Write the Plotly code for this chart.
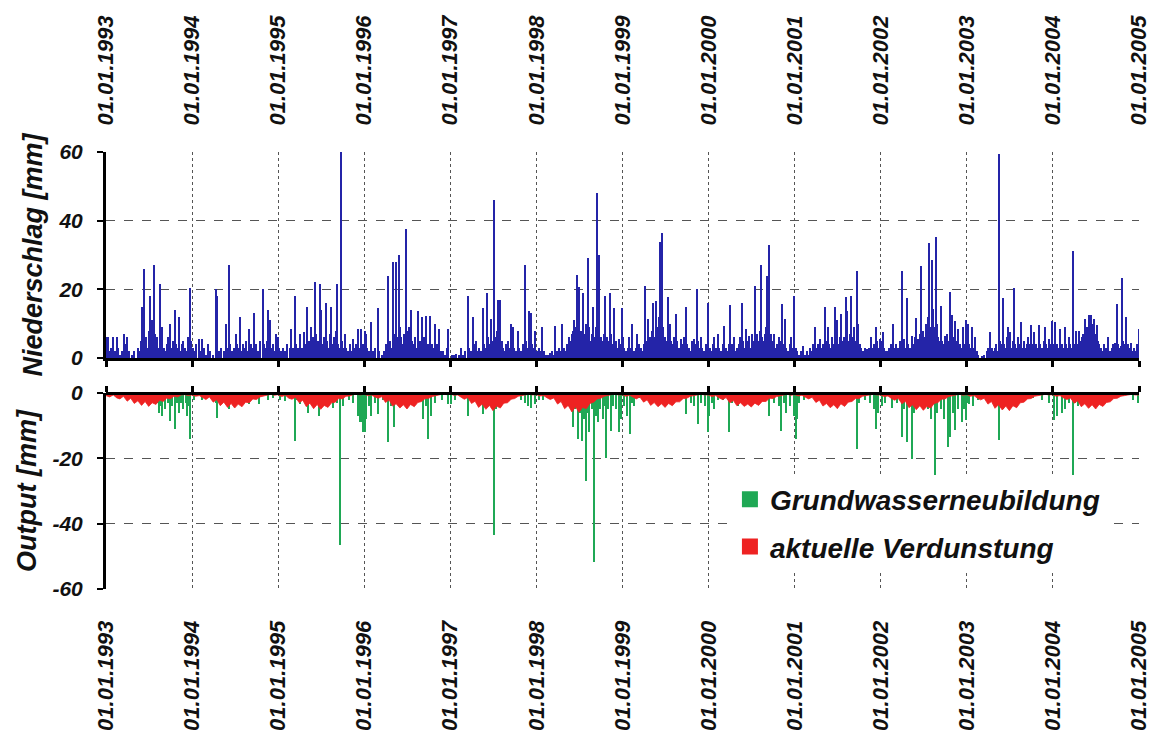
import pandas as pd
import plotly.graph_objects as go

YEARS = list(range(1993, 2006))
TICK_TEXT = [f"01.01.{y}" for y in YEARS]
Y_TOP_TICKS = [0, 20, 40, 60]
Y_BOT_TICKS = [-60, -40, -20, 0]

# Niederschlag (day of year, mm)
P1993 = [(5,6),(9,6),(14,2),(22,3),(31,6),(38,2),(46,6),(52,3),(60,1),(68,2),(76,7),(82,4),(90,6),(98,2),(110,1),(120,2),(135,3),(142,2),(150,5),(154,15),(158,4),(162,26),(168,6),(175,3),(181,8),(187,18),(190,9),(194,11),(198,5),(202,27),(206,7),(212,4),(218,6),(222,3),(228,21.5),(233,5),(239,9),(245,3),(252,2),(258,4),(265,6),(272,10),(278,3),(285,5),(291,14),(296,4),(302,3),(309,12),(315,2),(322,4),(328,5),(335,3),(342,2),(348,6),(352,4),(358,20.5),(362,5)]
P1994 = [(3,3),(10,2),(18,4),(29,5.5),(35,2),(43,5.5),(50,3),(58,1),(69,4),(78,2),(88,1),(100,20),(104,3),(107,18),(115,2),(125,3),(134,2),(143,10),(148,3),(155,27),(160,4),(168,2),(178,3),(186,7),(192,4),(198,3),(203,12),(210,2),(216,4),(222,3),(229,5),(236,2),(243,8.5),(250,4),(258,3),(265,13),(270,4),(280,2),(290,5),(301,20),(306,4),(312,3),(318,5),(322,14),(329,11),(336,3),(342,4),(350,2),(358,7),(363,6)]
P1995 = [(5,3),(12,2),(21,3),(30,2),(40,4),(50,3),(57,8.5),(64,3),(71,18),(78,4),(85,3),(92,7),(100,3),(109,7.5),(116,4),(124,15),(130,5),(136,4),(141,9),(147,6),(152,3),(158,22),(163,7),(170,5),(177,21.5),(181,6),(184,14),(190,4),(196,6),(202,16),(208,5),(214,3),(220,7),(226,15),(232,4),(238,6),(244,8),(250,21.5),(256,4),(261,3),(266,60),(270,5),(276,3),(283,7),(290,3),(298,2),(306,4),(312,2),(318,5.5),(325,3),(332,4),(340,8.5),(346,3),(354,8.5),(360,4)]
P1996 = [(3,8),(8,7),(14,3),(20,2),(30,10.4),(38,2),(45,3),(58,14.5),(65,2),(75,1),(86,2),(92,4),(102,24),(108,5),(115,3),(124,28),(128,7),(134,28),(140,6),(147,30),(151,9),(156,6),(162,4),(168,7),(172,5),(179,37.6),(184,8),(189,9),(194,6),(198,14),(204,5),(210,4),(216,6),(222,3),(230,13.6),(236,5),(244,12),(250,4),(256,6),(264,12.3),(270,4),(275,3),(281,12.3),(288,4),(295,3),(302,10),(308,4),(314,3),(320,8.5),(328,2),(336,2),(345,1),(352,3),(358,8.5)]
P1997 = [(6,1),(15,1),(24,1.2),(35,1),(45,3),(55,1),(62,2),(74,18),(80,3),(88,2),(98,12),(102,4),(107,5),(115,2),(122,3),(130,2),(138,14.5),(144,4),(150,3),(155,19),(160,6),(166,4),(173,11.4),(180,5),(187,46),(192,6),(197,8),(202,17),(207,9),(212,17),(218,5),(225,3),(232,2),(238,4),(244,5),(250,3),(258,10),(262,4),(266,9),(272,3),(280,2),(287,8),(292,3),(300,2),(308,4),(315,27),(320,5),(326,3),(334,13.6),(341,13),(346,4),(352,3),(358,8)]
P1998 = [(4,2),(12,3),(18,2),(26,9),(34,2),(42,1),(50,1),(59,1.5),(68,2),(75,1),(81,9.4),(88,2),(95,3),(102,2),(110,10),(116,3),(124,2),(130,4),(139,6),(145,5),(150,7),(155,8),(161,11),(166,6),(170,9),(173,24.3),(178,7),(183,20.6),(188,8),(193,6),(198,19),(203,7),(209,10),(215,6),(220,29),(225,9),(230,5),(236,7),(242,15),(247,6),(252,9),(257,48),(260,10),(264,30),(268,8),(274,6),(280,5),(287,7),(293,18),(298,6),(304,5),(311,19),(316,7),(322,4),(330,14.5),(336,5),(342,3),(349,5.5),(356,4),(362,14.5)]
P1999 = [(3,6),(7,3),(14,2),(22,3),(28,6),(35,3),(43,10),(50,2),(57,3),(64,7),(72,4),(80,3),(87,2),(92,4),(97,21),(102,5),(107,11.4),(113,4),(118,6),(124,8),(128,16),(134,6),(142,16.7),(148,5),(153,9),(157,12),(160,33.7),(163,10),(166,21),(170,36.3),(174,9),(180,6),(186,5),(192,17.7),(197,6),(203,10),(208,5),(214,4),(220,6),(227,12.8),(233,5),(240,3),(249,5.5),(256,4),(263,6),(270,15),(276,4),(283,3),(290,2),(296,5),(302,5.5),(308,4),(317,20),(322,5),(328,3),(334,6),(340,3),(348,2),(355,4),(362,16)]
P2000 = [(5,3),(12,2),(18,4),(25,6),(32,3),(40,7),(47,3),(54,2),(60,4),(68,9.4),(75,3),(82,2),(88,4),(93,15.5),(99,4),(104,3),(110,6),(116,2),(122,3),(130,4),(136,6),(141,16),(146,5),(152,3),(160,8.5),(165,4),(170,5),(174,6.5),(180,3),(186,7),(192,5),(198,21),(203,6),(207,7),(212,5),(218,8),(224,27),(228,6),(234,5),(240,7),(244,9),(248,24),(252,6),(259,33),(264,7),(270,4),(275,5),(280,7),(286,3),(292,4),(298,6),(304,5),(311,15.7),(316,4),(323,11.4),(330,3),(338,2),(345,4),(351,6),(356,3),(362,18)]
P2001 = [(4,3),(10,2),(18,1),(26,2),(36,3.5),(44,1),(52,2),(58,1),(65,3),(72,2),(80,4),(86,9),(92,3),(100,4),(108,5.5),(114,3),(122,4),(129,15),(134,5),(141,9),(146,4),(152,3),(158,6),(164,4),(170,15),(175,5),(180,11),(186,4),(192,6),(198,12.8),(203,5),(210,6),(216,17.7),(219,8),(223,13.8),(228,5),(234,7),(241,18),(245,6),(251,9),(257,5),(263,25.4),(266,6),(270,10),(276,4),(283,3),(290,2),(298,3),(303,2),(309,2.5),(315,3),(323,6),(330,3),(336,4),(345,9),(350,5),(356,3),(362,5.5)]
P2002 = [(3,5),(8,7.5),(15,3),(22,2),(28,2),(35,3),(42,4),(51,10),(58,3),(65,4),(72,3),(80,5),(89,25.4),(94,4),(99,5.5),(106,3),(113,17.4),(118,4),(125,3),(132,6.5),(138,4),(144,6),(150,11.7),(155,5),(160,5.5),(165,7),(171,26.7),(176,7),(181,8),(186,6),(192,10),(197,6),(201,12),(207,33.5),(211,9),(216,28.6),(220,8),(224,14.4),(228,9),(233,35.2),(237,8),(240,10),(245,6),(250,5),(255,15.2),(260,5),(267,4),(273,6.5),(280,7),(287,5),(294,19.3),(298,8),(301,12.5),(307,6),(315,10.7),(320,4),(325,5),(330,8.5),(337,4),(342,3),(348,9),(355,4),(362,11)]
P2003 = [(5,10),(10,4),(15,3),(21,9),(28,3),(35,6),(42,2),(50,1),(63,0.7),(75,1),(85,2),(92,3),(100,7.5),(106,3),(112,2),(118,3),(125,4),(131,2),(137,59.5),(142,5),(148,4),(153,17.4),(158,4),(164,3),(170,6),(174,9),(179,4),(184,7.5),(190,3),(196,5),(202,20.3),(207,4),(213,3),(218,6),(224,4),(230,10.5),(236,3),(244,5),(250,3),(256,4),(262,6),(266,4),(272,9.5),(278,4),(286,7.5),(292,4),(298,3),(306,9.5),(312,4),(318,3),(326,5),(332,9),(338,4),(345,3),(351,5.5),(356,4),(362,10.7)]
P2004 = [(5,4),(11,10.5),(18,4),(25,3),(32,8.5),(38,4),(44,3),(51,9),(57,4),(62,3),(67,6),(74,4),(80,3),(87,31.3),(92,4),(98,8),(104,4),(110,8),(116,5),(124,6),(130,7),(135,11.5),(140,6),(146,9),(152,12.6),(157,7),(163,12.5),(168,8),(172,10),(177,11.5),(182,7),(187,9.5),(192,5),(198,4),(205,3),(212,2),(219,4),(226,3),(236,6),(243,2),(250,3),(257,4),(264,4.5),(271,15.7),(276,4),(282,3),(289,3.5),(295,23.2),(300,5),(306,4),(313,12),(318,4),(324,3),(331,4.5),(338,2),(345,3),(352,2),(358,4),(364,8.5)]

# Grundwasserneubildung (day of year, mm)
G1993 = [(15,0.5),(40,0.8),(60,0.5),(200,2),(215,3),(224,6),(232,4),(239,7),(252,5),(262,3),(272,8.5),(280,4),(291,11),(300,3),(309,6),(318,3),(328,5),(338,3),(345,7),(352,4),(358,14.2)]
G1994 = [(7,2),(20,1),(43,2),(70,1),(100,3),(107,7.5),(115,2),(157,5),(200,3),(222,2.5),(243,3.5),(286,3.5),(322,2),(345,1.5)]
G1995 = [(7,2),(28,2.5),(50,1),(71,14.7),(80,2),(92,3.5),(110,2),(127,6),(150,2),(174,7),(200,2),(233,4.5),(250,3),(265,46.5),(276,4),(300,2),(320,3),(340,7),(348,9),(354,9),(360,12)]
G1996 = [(3,12),(10,8),(20,4),(30,7),(45,3),(58,6.5),(80,2),(102,15),(115,4),(127,10.5),(150,2),(251,8),(262,4),(271,14),(285,7),(300,3),(330,2),(358,3.5)]
G1997 = [(5,3.5),(20,2),(40,1),(74,7),(100,2),(138,6.5),(187,43.4),(195,5),(250,2),(300,2),(315,3),(330,4),(344,4.5),(358,3.5)]
G1998 = [(10,2),(28,2),(60,1),(140,4),(154,10.5),(165,5),(175,14),(185,6),(194,14.7),(203,8),(211,27),(218,6),(225,12),(235,5),(246,51.6),(252,7),(260,9),(270,5),(281,8),(288,4),(295,19.8),(305,5),(316,11.6),(326,4),(337,5),(350,12),(358,8)]
G1999 = [(5,4),(21,7),(33,12.6),(42,3),(50,4),(70,1.5),(100,1),(250,2),(270,6.5),(290,3),(305,4),(320,9.5),(335,3),(350,4),(362,12)]
G2000 = [(4,7),(15,3),(25,5),(40,2),(60,2),(89,12),(100,3),(124,4),(200,1),(259,7),(280,3),(300,4),(308,11.6),(320,3),(330,6),(345,4),(362,7)]
G2001 = [(4,14),(11,8),(20,3),(40,2),(70,1),(200,1.5),(266,17),(275,3),(300,2),(320,3),(335,5),(345,11),(355,6)]
G2002 = [(5,4),(20,3),(47,4.7),(70,3),(89,13.5),(100,5),(110,15),(120,4),(132,20.2),(140,6),(170,3),(200,5),(215,8),(231,26.4),(240,6),(255,5),(270,8),(287,16.6),(294,13.5),(305,6),(315,11.4),(330,5),(344,9),(355,5),(362,8.3)]
G2003 = [(0,3),(10,3.5),(28,4),(50,2),(80,2),(137,14.5),(153,5),(200,2),(280,1.5),(320,2),(350,3)]
G2004 = [(4,8.3),(18,7),(39,6),(53,5),(70,3),(84,27),(95,3),(109,4),(130,2),(300,1),(340,2),(360,3)]

# aktuelle Verdunstung, mm/d on the 1st and 16th of each month
E1993 = [0.8,1.2,0.6,1.5,1.8,1.0,2.5,1.6,3.2,2.4,3.8,2.6,4.1,3.0,3.5,2.2,2.6,1.5,1.8,1.0,1.2,0.6,0.5,0.8]
E1994 = [0.6,1.0,0.8,1.4,2.0,1.2,2.8,2.0,3.9,2.8,4.4,3.2,4.6,3.4,4.2,2.8,3.0,1.8,2.0,1.2,1.0,0.6,0.4,0.7]
E1995 = [0.5,1.1,0.7,1.6,1.9,1.3,3.0,2.2,4.2,3.1,4.8,3.5,5.0,3.8,4.4,3.0,2.8,1.6,1.8,1.0,0.9,0.5,0.4,0.6]
E1996 = [0.4,0.8,0.6,1.2,1.6,1.1,2.9,2.1,4.0,3.3,4.6,3.6,4.9,3.5,4.2,2.9,2.6,1.7,1.6,1.1,0.8,0.5,0.3,0.5]
E1997 = [0.3,0.7,0.6,1.3,1.9,1.4,3.2,2.5,4.4,3.4,5.0,3.8,5.4,4.0,4.6,3.1,3.0,1.9,1.7,1.0,0.8,0.5,0.4,0.6]
E1998 = [0.5,0.9,0.8,1.5,2.0,1.5,3.4,2.6,4.8,3.8,5.8,4.2,5.9,4.4,4.8,3.2,2.8,1.8,1.6,1.0,0.7,0.5,0.4,0.6]
E1999 = [0.5,1.0,0.7,1.4,1.8,1.2,2.8,2.1,3.8,2.9,4.2,3.3,4.4,3.2,3.9,2.7,2.7,1.7,1.6,1.0,0.8,0.5,0.4,0.6]
E2000 = [0.6,1.1,0.8,1.5,2.0,1.4,3.0,2.3,3.9,3.0,4.1,3.4,4.3,3.1,3.8,2.6,2.6,1.6,1.7,1.1,0.9,0.6,0.4,0.7]
E2001 = [0.5,0.9,0.7,1.3,1.8,1.3,2.9,2.2,4.0,3.2,4.5,3.6,4.8,3.3,4.1,2.8,2.6,1.7,1.7,1.0,0.8,0.5,0.4,0.6]
E2002 = [0.6,1.1,0.9,1.7,2.2,1.6,3.3,2.5,4.5,3.6,5.1,3.9,5.3,4.1,4.6,3.2,2.9,1.9,1.8,1.1,0.9,0.6,0.4,0.7]
E2003 = [0.5,1.0,0.8,1.6,2.1,1.6,3.4,2.6,4.7,3.6,5.2,4.0,5.4,3.9,4.5,3.0,2.8,1.8,1.7,1.0,0.8,0.5,0.4,0.6]
E2004 = [0.5,1.0,0.8,1.5,2.0,1.5,3.1,2.4,4.2,3.3,4.7,3.6,4.9,3.5,4.1,2.9,2.7,1.7,1.6,1.0,0.8,0.5,0.4,0.6]

P_BY_YEAR = dict(zip(range(1993, 2005), [P1993, P1994, P1995, P1996, P1997, P1998, P1999, P2000, P2001, P2002, P2003, P2004]))
G_BY_YEAR = dict(zip(range(1993, 2005), [G1993, G1994, G1995, G1996, G1997, G1998, G1999, G2000, G2001, G2002, G2003, G2004]))
E_BY_YEAR = dict(zip(range(1993, 2005), [E1993, E1994, E1995, E1996, E1997, E1998, E1999, E2000, E2001, E2002, E2003, E2004]))


def expand(by_year):
    xs, ys = [], []
    for yr, pairs in by_year.items():
        for d, v in pairs:
            xs.append(pd.Timestamp(yr, 1, 1) + pd.Timedelta(days=d))
            ys.append(v)
    return xs, ys


px_, py_ = expand(P_BY_YEAR)
gx_, gy_ = expand(G_BY_YEAR)
ex_, ey_ = [], []
for yr, vals in E_BY_YEAR.items():
    for i, v in enumerate(vals):
        ex_.append(pd.Timestamp(yr, i // 2 + 1, 1 if i % 2 == 0 else 16))
        ey_.append(-v)
ex_.append(pd.Timestamp(2005, 1, 1)); ey_.append(ey_[-1])

FONT = "Liberation Sans, Arial, sans-serif"
BLUE = "#2424a8"
GREEN = "#1fa855"
RED = "#ee2222"
GRID = "#555555"
BARW = 4.5 * 86400000

tickvals = [pd.Timestamp(y, 1, 1) for y in YEARS]
xr = [pd.Timestamp(1993, 1, 1), pd.Timestamp(2005, 1, 1)]

fig = go.Figure()
fig.add_trace(go.Bar(x=px_, y=py_, width=BARW, marker=dict(color=BLUE, line=dict(width=0)),
                     xaxis="x", yaxis="y", showlegend=False, hoverinfo="skip"))
fig.add_trace(go.Scatter(x=ex_, y=ey_, mode="lines", fill="tozeroy", line=dict(color=RED, width=0.8),
                         fillcolor=RED, xaxis="x2", yaxis="y2", showlegend=False, hoverinfo="skip"))
fig.add_trace(go.Bar(x=gx_, y=[-v for v in gy_], width=BARW, marker=dict(color=GREEN, line=dict(width=0)),
                     xaxis="x2", yaxis="y2", showlegend=False, hoverinfo="skip"))
# legend entries
fig.add_trace(go.Scatter(x=[None], y=[None], mode="markers", name="Grundwasserneubildung",
                         marker=dict(symbol="square", size=16, color=GREEN),
                         xaxis="x2", yaxis="y2", legendgroup="g"))
fig.add_trace(go.Scatter(x=[None], y=[None], mode="markers", name="aktuelle Verdunstung",
                         marker=dict(symbol="square", size=16, color=RED),
                         xaxis="x2", yaxis="y2", legendgroup="e"))
# empty carriers so the overlay axes get drawn
fig.add_trace(go.Scatter(x=[None], y=[None], mode="markers", xaxis="x3", yaxis="y",
                         showlegend=False, hoverinfo="skip"))
fig.add_trace(go.Scatter(x=[None], y=[None], mode="markers", xaxis="x4", yaxis="y2",
                         showlegend=False, hoverinfo="skip"))

tickfont_y = dict(family=FONT, size=21, color="#111", weight="bold", style="italic")
tickfont_x = dict(family=FONT, size=22, color="#111", weight="bold", style="italic")
titlefont = dict(family=FONT, size=27, color="#111", weight="bold", style="italic")

TOP_D = [0.5286, 1.0]
BOT_D = [0.0, 0.4485]

fig.update_layout(
    width=1154, height=733,
    margin=dict(l=106, r=15, t=152, b=144, autoexpand=False),
    paper_bgcolor="white", plot_bgcolor="white",
    barmode="overlay", bargap=0,
    xaxis=dict(domain=[0, 1], anchor="y", type="date", range=xr, tickmode="array", tickvals=tickvals,
               showticklabels=False, ticks="outside", ticklen=6, tickwidth=3, tickcolor="black",
               showline=True, linewidth=3, linecolor="black", automargin=False,
               showgrid=True, gridcolor=GRID, griddash="dot", gridwidth=1, zeroline=False),
    yaxis=dict(domain=TOP_D, anchor="x", range=[0, 60], tickmode="array", tickvals=Y_TOP_TICKS,
               ticktext=[str(v) for v in Y_TOP_TICKS],
               tickfont=tickfont_y, ticks="outside", ticklen=6, tickwidth=2, tickcolor="black",
               ticklabelstandoff=10, automargin=False,
               showline=True, linewidth=3, linecolor="black",
               showgrid=True, gridcolor=GRID, griddash="dash", gridwidth=1, zeroline=False,
               title=dict(text="Niederschlag [mm]", font=titlefont, standoff=8)),
    xaxis2=dict(domain=[0, 1], anchor="y2", type="date", range=xr, tickmode="array", tickvals=tickvals,
                ticktext=TICK_TEXT, tickangle=-90, tickfont=tickfont_x, automargin=False,
                ticks="outside", ticklen=22, tickcolor="rgba(0,0,0,0)",
                showline=False, showgrid=True, gridcolor=GRID, griddash="dot", gridwidth=1, zeroline=False),
    yaxis2=dict(domain=BOT_D, anchor="x2", range=[-60, 0], tickmode="array", tickvals=Y_BOT_TICKS,
                ticktext=[str(v) for v in Y_BOT_TICKS],
                tickfont=tickfont_y, ticks="outside", ticklen=6, tickwidth=2, tickcolor="black",
                ticklabelstandoff=10, automargin=False,
                showline=True, linewidth=3, linecolor="black",
                showgrid=True, gridcolor=GRID, griddash="dash", gridwidth=1, zeroline=False,
                title=dict(text="Output [mm]", font=titlefont, standoff=8)),
    xaxis3=dict(overlaying="x", anchor="free", position=1.0, side="top", type="date", range=xr,
                tickmode="array", tickvals=tickvals, ticktext=TICK_TEXT, tickangle=-90, tickfont=tickfont_x,
                ticks="outside", ticklen=22, tickcolor="rgba(0,0,0,0)", showline=False, showgrid=False,
                zeroline=False, automargin=False),
    xaxis4=dict(overlaying="x2", anchor="free", position=BOT_D[1], side="top", type="date", range=xr,
                tickmode="array", tickvals=tickvals, showticklabels=False, automargin=False,
                ticks="outside", ticklen=6, tickwidth=3, tickcolor="black",
                showline=True, linewidth=3, linecolor="black", showgrid=False, zeroline=False),
    legend=dict(x=0.604, y=0.262, xanchor="left", yanchor="top", bgcolor="white",
                font=dict(family=FONT, size=28, color="#111", weight="bold", style="italic"),
                traceorder="grouped", tracegroupgap=8, itemsizing="trace"),
)

fig.write_html("out.html")
